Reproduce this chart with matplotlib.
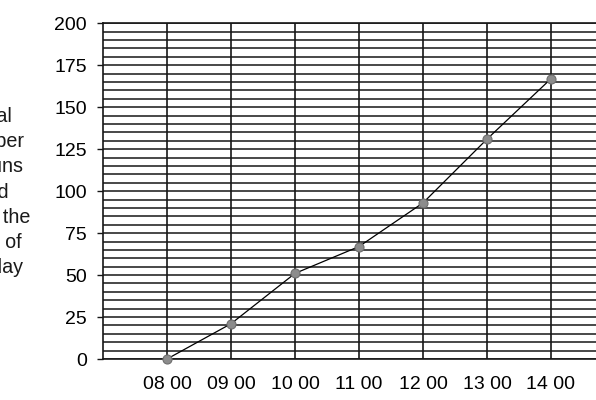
#!/usr/bin/env python
# -*- coding: utf-8 -*-

"""Cumulative count of buns sold during the day, drawn on ruled paper."""

import matplotlib
matplotlib.use("Agg")
import matplotlib.pyplot as plt

hours = [8, 9, 10, 11, 12, 13, 14]
hour_labels = ["08 00", "09 00", "10 00", "11 00", "12 00", "13 00", "14 00"]
totals = [0, 21, 51, 67, 93, 131, 167]
y_ticks = [0, 25, 50, 75, 100, 125, 150, 175, 200]
side_label = ["Total", "number", "of buns", "sold", "since the", "start of", "the day"]

plt.rcParams["font.family"] = ["Liberation Sans", "DejaVu Sans"]

W, H = 596, 400
fig = plt.figure(figsize=(W / 100, H / 100), dpi=100)

# the paper runs off the right edge of the scan, so the axes do too
left, right, bottom, top = 103, 615, 359, 23.3
ax = fig.add_axes([left / W, 1 - bottom / H, (right - left) / W, (bottom - top) / H])

ink = "#161616"
ax.set_xlim(7, 15)
ax.set_ylim(0, 200)
ax.set_xticks(hours)
ax.set_xticklabels(hour_labels)
ax.set_yticks(y_ticks)
ax.set_yticks(range(0, 201, 5), minor=True)

ax.grid(True, which="both", axis="y", color=ink, linewidth=1.1)
ax.grid(True, which="major", axis="x", color=ink, linewidth=1.2)
ax.set_axisbelow(True)

ax.spines["right"].set_visible(False)
for side in ("left", "bottom", "top"):
    ax.spines[side].set_color(ink)
    ax.spines[side].set_linewidth(1.2)

ax.tick_params(axis="y", which="major", length=4, width=1.0, color=ink,
               pad=7.5, labelsize=14)
ax.tick_params(axis="y", which="minor", length=0)
ax.tick_params(axis="x", length=0, pad=12, labelsize=14)

ax.plot(hours, totals, color="black", linewidth=0.9, zorder=3,
        marker="o", markersize=6.5, markerfacecolor="#8c8c8c",
        markeredgecolor="#6e6e6e", markeredgewidth=0.8, clip_on=False)

# axis title sits mostly off the left edge of the scan
fig.text(-9 / W, 1 - 192 / H, "\n".join(side_label), ha="center", va="center",
         multialignment="center", fontsize=14.2, linespacing=1.42,
         color="#1a1a1a")

fig.savefig("out.png", dpi=100)
